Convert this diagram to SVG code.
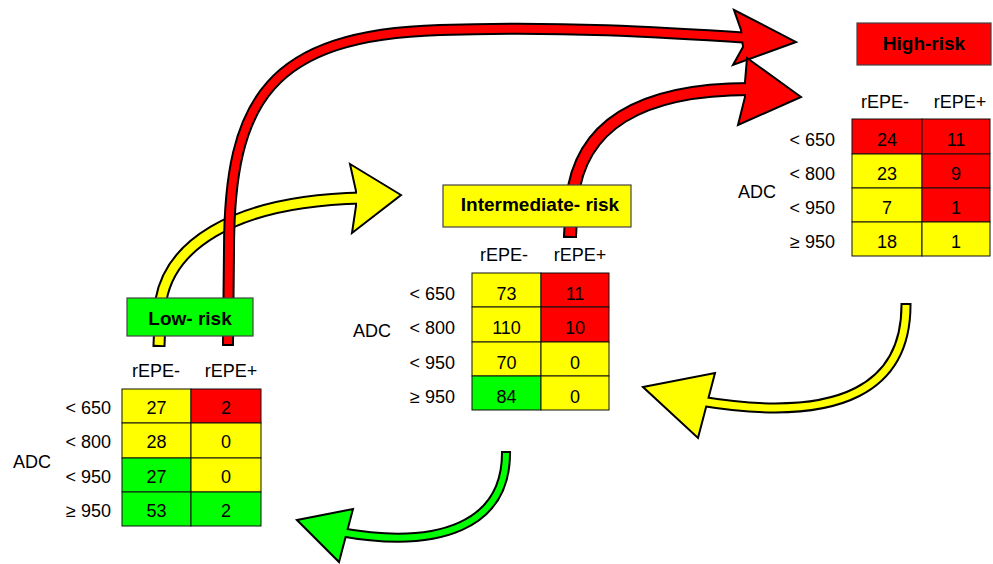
<svg xmlns="http://www.w3.org/2000/svg" width="993" height="564" viewBox="0 0 993 564">
<style>
text{font-family:"Liberation Sans",Arial,sans-serif;fill:#000}
.t{font-size:18px}
.c{font-size:18px;text-anchor:middle}
.e{font-size:18px;text-anchor:end}
.b{font-size:19px;font-weight:bold;text-anchor:middle}
.o{fill:none;stroke:#000;stroke-linejoin:round}
.hd{stroke:#000;stroke-width:2;stroke-linejoin:miter}
.R{fill:#FF0000}.Y{fill:#FFFF00}.G{fill:#00FF00}
.cell rect{stroke:#111;stroke-width:1}
.box{stroke:#444;stroke-width:1.2}
</style>
<g id="connectors">
  <!-- yellow: low -> intermediate -->
  <path class="o" stroke-width="13" d="M159,347 L159,345 L161,300 C170,250 225,201 362,198"/>
  <polygon class="hd Y" points="350,164 401,195 352,233 356,206 356,191"/>
  <path fill="none" stroke="#FFFF00" stroke-width="9" d="M159,345 L161,300 C170,250 225,201 362,198"/>
  <!-- red: low -> high -->
  <path class="o" stroke-width="12" d="M228,346 L228,344 L229,250 C229,100 270,35 440,30 C560,26 660,32 750,38"/>
  <polygon class="hd R" points="734,10 796,42 733,65 743,47 741,30"/>
  <path fill="none" stroke="#FF0000" stroke-width="8" d="M228,344 L229,250 C229,100 270,35 440,30 C560,26 660,32 750,38"/>
  <!-- red: intermediate -> high -->
  <path class="o" stroke-width="14" d="M570,238 L570,236 L572,200 C580,125 640,89 750,89"/>
  <polygon class="hd R" points="747,58 801,97 738,125 745,97 745,82"/>
  <path fill="none" stroke="#FF0000" stroke-width="10" d="M570,236 L572,200 C580,125 640,89 750,89"/>
  <!-- green: intermediate -> low -->
  <path class="o" stroke-width="10" d="M506,451 L506,453 C506,525 440,550 340,532"/>
  <polygon class="hd G" points="297,520 353,509 339,562"/>
  <path fill="none" stroke="#00FF00" stroke-width="6" d="M506,453 C506,525 440,550 340,532"/>
  <!-- yellow: high -> intermediate -->
  <path class="o" stroke-width="11" d="M906,303 L906,305 C906,385 845,425 700,401"/>
  <polygon class="hd Y" points="643,387 715,373 698,438"/>
  <path fill="none" stroke="#FFFF00" stroke-width="7" d="M906,305 C906,385 845,425 700,401"/>
</g>

<g id="low-risk">
  <rect class="box G" x="127" y="298" width="126" height="38"/>
  <text class="b" x="190" y="325">Low- risk</text>
  <text class="c" x="156" y="377">rEPE-</text>
  <text class="c" x="231" y="377">rEPE+</text>
  <text class="t" x="13" y="468">ADC</text>
  <g class="cell">
    <rect class="Y" x="122" y="389" width="69" height="34"/><rect class="R" x="191" y="389" width="70" height="34"/>
    <rect class="Y" x="122" y="423" width="69" height="35"/><rect class="Y" x="191" y="423" width="70" height="35"/>
    <rect class="G" x="122" y="458" width="69" height="34"/><rect class="Y" x="191" y="458" width="70" height="34"/>
    <rect class="G" x="122" y="492" width="69" height="34"/><rect class="G" x="191" y="492" width="70" height="34"/>
  </g>
  <text class="e" x="111" y="414">&lt; 650</text>
  <text class="e" x="111" y="448">&lt; 800</text>
  <text class="e" x="111" y="483">&lt; 950</text>
  <text class="e" x="111" y="517">≥ 950</text>
  <text class="c" x="156.5" y="414">27</text><text class="c" x="226" y="414">2</text>
  <text class="c" x="156.5" y="448">28</text><text class="c" x="226" y="448">0</text>
  <text class="c" x="156.5" y="483">27</text><text class="c" x="226" y="483">0</text>
  <text class="c" x="156.5" y="517">53</text><text class="c" x="226" y="517">2</text>
</g>

<g id="intermediate-risk">
  <rect class="box Y" x="443" y="185" width="188" height="42"/>
  <text class="b" x="540" y="211">Intermediate- risk</text>
  <text class="c" x="504" y="261">rEPE-</text>
  <text class="c" x="580" y="261">rEPE+</text>
  <text class="t" x="353" y="337">ADC</text>
  <g class="cell">
    <rect class="Y" x="472" y="273" width="69" height="34"/><rect class="R" x="541" y="273" width="68" height="34"/>
    <rect class="Y" x="472" y="307" width="69" height="35"/><rect class="R" x="541" y="307" width="68" height="35"/>
    <rect class="Y" x="472" y="342" width="69" height="34"/><rect class="Y" x="541" y="342" width="68" height="34"/>
    <rect class="G" x="472" y="376" width="69" height="34"/><rect class="Y" x="541" y="376" width="68" height="34"/>
  </g>
  <text class="e" x="455" y="300">&lt; 650</text>
  <text class="e" x="455" y="334">&lt; 800</text>
  <text class="e" x="455" y="369">&lt; 950</text>
  <text class="e" x="455" y="403">≥ 950</text>
  <text class="c" x="506.5" y="300">73</text><text class="c" x="575" y="300">11</text>
  <text class="c" x="506.5" y="334">110</text><text class="c" x="575" y="334">10</text>
  <text class="c" x="506.5" y="369">70</text><text class="c" x="575" y="369">0</text>
  <text class="c" x="506.5" y="403">84</text><text class="c" x="575" y="403">0</text>
</g>

<g id="high-risk">
  <rect class="box R" x="857" y="23" width="134" height="42"/>
  <text class="b" x="924" y="50">High-risk</text>
  <text class="c" x="885" y="108">rEPE-</text>
  <text class="c" x="960" y="108">rEPE+</text>
  <text class="t" x="738" y="198">ADC</text>
  <g class="cell">
    <rect class="R" x="852" y="119" width="70" height="35"/><rect class="R" x="922" y="119" width="68" height="35"/>
    <rect class="Y" x="852" y="154" width="70" height="34"/><rect class="R" x="922" y="154" width="68" height="34"/>
    <rect class="Y" x="852" y="188" width="70" height="34"/><rect class="R" x="922" y="188" width="68" height="34"/>
    <rect class="Y" x="852" y="222" width="70" height="34"/><rect class="Y" x="922" y="222" width="68" height="34"/>
  </g>
  <text class="e" x="835" y="146">&lt; 650</text>
  <text class="e" x="835" y="180">&lt; 800</text>
  <text class="e" x="835" y="214">&lt; 950</text>
  <text class="e" x="835" y="248">≥ 950</text>
  <text class="c" x="887" y="146">24</text><text class="c" x="956" y="146">11</text>
  <text class="c" x="887" y="180">23</text><text class="c" x="956" y="180">9</text>
  <text class="c" x="887" y="214">7</text><text class="c" x="956" y="214">1</text>
  <text class="c" x="887" y="248">18</text><text class="c" x="956" y="248">1</text>
</g>
</svg>
